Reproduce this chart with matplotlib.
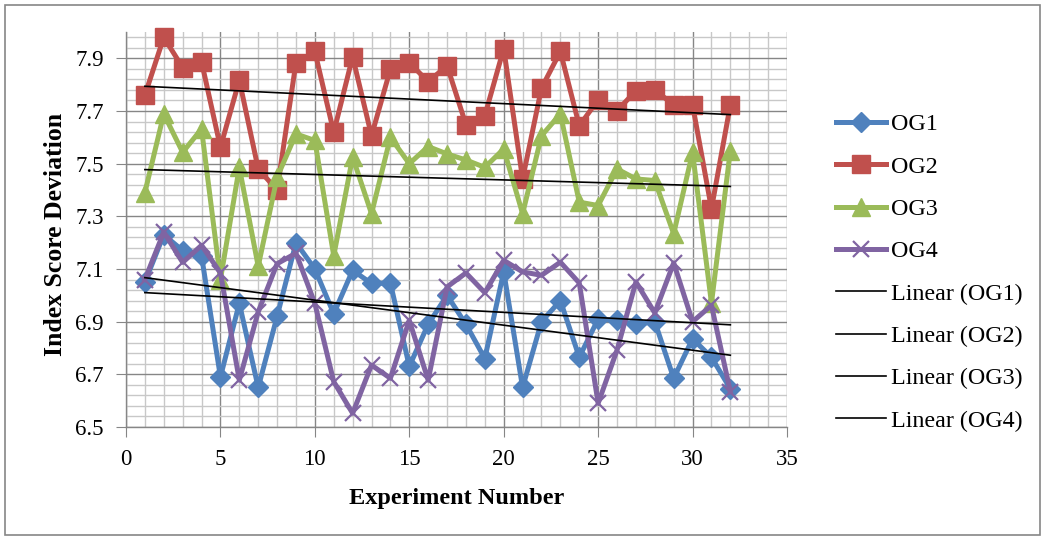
import numpy as np
import matplotlib
matplotlib.use("Agg")
import matplotlib.pyplot as plt
from matplotlib.patches import Rectangle
from matplotlib.ticker import MultipleLocator

experiments = list(range(1, 33))
og1 = [7.05, 7.23, 7.17, 7.15, 6.69, 6.97, 6.65, 6.92, 7.20, 7.10, 6.93, 7.095,
       7.045, 7.047, 6.73, 6.89, 7.00, 6.89, 6.76, 7.09, 6.65, 6.90, 6.98, 6.765,
       6.91, 6.905, 6.89, 6.90, 6.685, 6.835, 6.765, 6.645]
og2 = [7.76, 7.98, 7.865, 7.887, 7.562, 7.817, 7.48, 7.40, 7.884, 7.926, 7.619, 7.906,
       7.606, 7.859, 7.884, 7.811, 7.872, 7.648, 7.682, 7.937, 7.442, 7.787, 7.926, 7.644,
       7.742, 7.701, 7.777, 7.78, 7.723, 7.723, 7.329, 7.723]
og3 = [7.39, 7.689, 7.543, 7.632, 7.06, 7.486, 7.11, 7.448, 7.613, 7.588, 7.15, 7.525,
       7.31, 7.60, 7.50, 7.565, 7.537, 7.514, 7.486, 7.556, 7.31, 7.606, 7.689, 7.354,
       7.341, 7.48, 7.442, 7.436, 7.234, 7.543, 6.97, 7.55]
og4 = [7.06, 7.24, 7.125, 7.19, 7.085, 6.678, 6.937, 7.12, 7.16, 6.969, 6.672, 6.552,
       6.735, 6.685, 6.905, 6.678, 7.032, 7.085, 7.01, 7.133, 7.089, 7.076, 7.126, 7.047,
       6.59, 6.792, 7.051, 6.933, 7.123, 6.90, 6.962, 6.634]

series_names = ["OG1", "OG2", "OG3", "OG4"]
series_values = [og1, og2, og3, og4]
colors = ["#4F81BD", "#C0504D", "#9BBB59", "#8064A2"]
markers = ["D", "s", "^", "x"]
msizes = [10.5, 12.5, 13, 12]

plt.rcParams['font.family'] = ['Liberation Serif', 'DejaVu Serif']

W, H = 1044, 538
fig = plt.figure(figsize=(W / 100, H / 100), dpi=100)
fig.patches.append(Rectangle((5 / W, 3 / H), (1040 - 5) / W, (533 - 3) / H,
                             transform=fig.transFigure, fill=False,
                             edgecolor="#868686", linewidth=1.2))

ax = fig.add_axes([126 / W, 1 - 427 / H, (787 - 126) / W, (427 - 32) / H])
ax.set_xlim(0, 35)
ax.set_ylim(6.5, 8.0)
ax.xaxis.set_major_locator(MultipleLocator(5))
ax.xaxis.set_minor_locator(MultipleLocator(1))
yt = np.arange(6.5, 7.95, 0.2)
ax.set_yticks(yt)
ax.set_yticklabels([f"{v:.1f}" for v in yt])
ax.set_yticks(np.arange(6.54, 7.99, 0.04), minor=True)
ax.grid(True, which="minor", color="#C8C8C8", linewidth=1.0)
ax.grid(True, which="major", color="#868686", linewidth=1.0)
ax.set_axisbelow(True)
for s in ["top", "right"]:
    ax.spines[s].set_visible(False)
for s in ["left", "bottom"]:
    ax.spines[s].set_color("#868686")
    ax.spines[s].set_linewidth(1.0)
ax.tick_params(which="major", length=7, color="#868686", labelsize=16.5)
ax.tick_params(axis="x", which="major", pad=9)
ax.tick_params(axis="y", which="major", pad=9)
ax.tick_params(which="minor", length=0)

x = np.array(experiments)
line_handles = []
for name, vals, c, m, ms in zip(series_names, series_values, colors, markers, msizes):
    mew = 1.6 if m == "x" else 1.0
    h, = ax.plot(x, vals, color=c, linewidth=3.6, marker=m, markersize=ms,
                 markerfacecolor=c, markeredgecolor=c, markeredgewidth=mew,
                 label=name, zorder=3, solid_joinstyle="round", clip_on=False)
    line_handles.append(h)

trend_handles = []
for name, vals in zip(series_names, series_values):
    k, b = np.polyfit(x, vals, 1)
    xs = np.array([x[0], x[-1]])
    h, = ax.plot(xs, k * xs + b, color="black", linewidth=1.2, zorder=4,
                 label=f"Linear ({name})")
    trend_handles.append(h)

ax.set_xlabel("Experiment Number", fontsize=17.5, fontweight="bold", labelpad=13)
ax.set_ylabel("Index Score Deviation", fontsize=18.5, fontweight="bold", labelpad=6)
ax.yaxis.label.set_y(0.5 - 5 / 395)

fig.legend(handles=line_handles + trend_handles,
           labels=[h.get_label() for h in line_handles + trend_handles],
           loc="upper left", bbox_to_anchor=(836 / W, 1 - 113.5 / H),
           frameon=False, fontsize=17.3, handlelength=2.1, handletextpad=0.2,
           labelspacing=0.855, numpoints=1, borderpad=0, borderaxespad=0)

fig.savefig("out.png", dpi=100)
